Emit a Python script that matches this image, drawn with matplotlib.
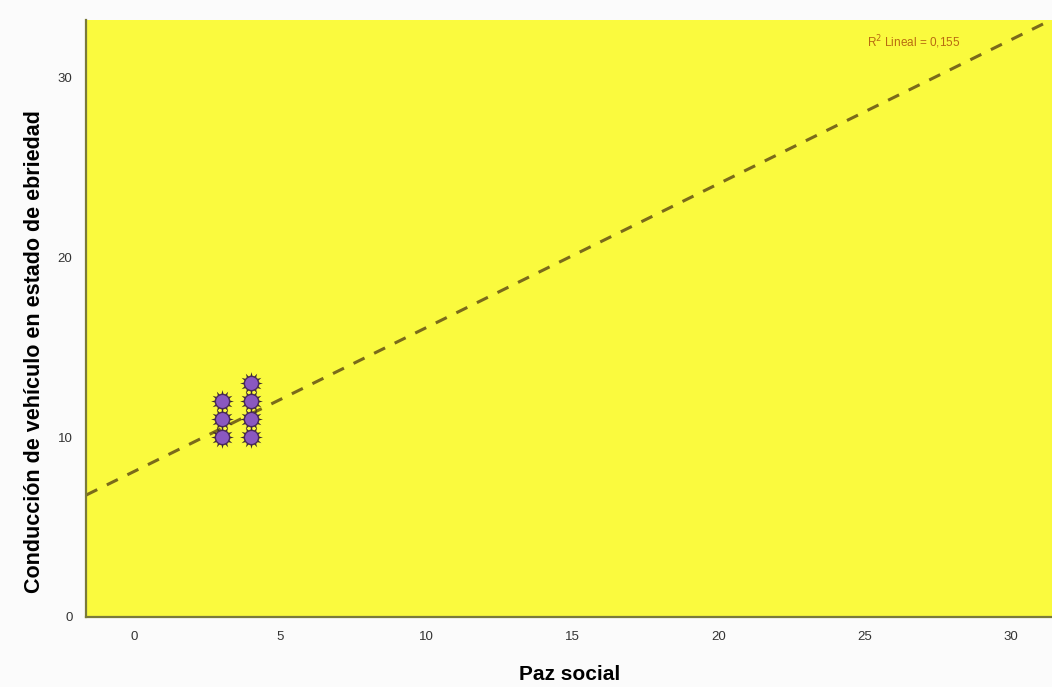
import numpy as np
import matplotlib.pyplot as plt

plt.rcParams["font.family"] = ["Liberation Sans", "DejaVu Sans"]

# observed cases: Paz social vs. Conducción de vehículo en estado de ebriedad
paz_social = [3, 3, 3, 4, 4, 4, 4]
conduccion = [10, 11, 12, 10, 11, 12, 13]

# fitted linear trend reported with the chart
fit_intercept = 8.1
fit_slope = 0.80
r2_lineal = 0.155

x_ticks = [0, 5, 10, 15, 20, 25, 30]
y_ticks = [0, 10, 20, 30]
x_range = (-1.65, 31.4)
y_range = (0, 33.2)

fig = plt.figure(figsize=(10.52, 6.87), dpi=100)
fig.patch.set_facecolor("#fbfbfb")
ax = fig.add_axes([0.082, 0.102, 0.918, 0.869])
ax.set_facecolor("#fafa3e")

# fit line across the whole x range
xx = np.array(x_range)
ax.plot(xx, fit_intercept + fit_slope * xx, linestyle=(0, (4, 3.5)),
        color="#7a6a1a", linewidth=2.2, zorder=2)

# spiky dark halo behind each point, then the purple disc
ax.scatter(paz_social, conduccion, marker=(12, 1, 0), s=270,
           color="#3b2a30", linewidths=0, zorder=3)
ax.scatter(paz_social, conduccion, s=105, facecolor="#8a58c0",
           edgecolor="#4a2a5a", linewidths=1.0, zorder=4)

ax.text(0.905, 0.978, f"R$^2$ Lineal = {r2_lineal:.3f}".replace(".", ","),
        transform=ax.transAxes, ha="right", va="top",
        fontsize=8.5, color="#b86a10")

ax.set_xlim(*x_range)
ax.set_ylim(*y_range)
ax.set_xticks(x_ticks)
ax.set_yticks(y_ticks)
ax.tick_params(length=0, labelsize=9.5, colors="#333333", pad=10)

for side in ("top", "right"):
    ax.spines[side].set_visible(False)
for side in ("left", "bottom"):
    ax.spines[side].set_color("#7a7a3a")
    ax.spines[side].set_linewidth(1.6)

ax.set_xlabel("Paz social", fontsize=15, fontweight="bold", labelpad=16)
ax.set_ylabel("Conducción de vehículo en estado de ebriedad", fontsize=15.5,
              fontweight="bold")
ax.yaxis.set_label_coords(-0.043, 0.444)

fig.savefig("out.png", dpi=100, facecolor=fig.get_facecolor())
